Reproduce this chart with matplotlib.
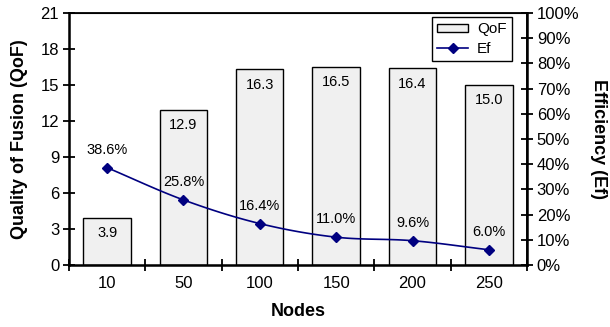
import numpy as np
import matplotlib
matplotlib.use("Agg")
import matplotlib.pyplot as plt
from matplotlib.ticker import FixedLocator, PercentFormatter
from matplotlib.lines import Line2D

plt.rcParams['font.family'] = ['Liberation Sans', 'DejaVu Sans']

nodes = ["10", "50", "100", "150", "200", "250"]
qof = [3.9, 12.9, 16.3, 16.5, 16.4, 15.0]
ef = [38.6, 25.8, 16.4, 11.0, 9.6, 6.0]


def smooth(xs, ys, n=20):
    """Catmull-Rom curve through the given points (for a smoothed line)."""
    xs = np.asarray(xs, float)
    ys = np.asarray(ys, float)
    px = np.concatenate([[2 * xs[0] - xs[1]], xs, [2 * xs[-1] - xs[-2]]])
    py = np.concatenate([[2 * ys[0] - ys[1]], ys, [2 * ys[-1] - ys[-2]]])
    ox, oy = [], []
    for i in range(1, len(px) - 2):
        t = np.linspace(0, 1, n, endpoint=False)
        for arr, out in ((px, ox), (py, oy)):
            p0, p1, p2, p3 = arr[i - 1], arr[i], arr[i + 1], arr[i + 2]
            out.extend(0.5 * ((2 * p1) + (-p0 + p2) * t
                              + (2 * p0 - 5 * p1 + 4 * p2 - p3) * t ** 2
                              + (-p0 + 3 * p1 - 3 * p2 + p3) * t ** 3))
    ox.append(xs[-1])
    oy.append(ys[-1])
    return np.array(ox), np.array(oy)


fig = plt.figure(figsize=(6.10, 3.27), dpi=100)
ax = fig.add_axes([0.113, 0.190, 0.751, 0.770])
x = np.arange(len(nodes))

bars = ax.bar(x, qof, width=0.62, color="#f0f0f0", edgecolor="black",
              linewidth=1.0, label="QoF", zorder=2)
for xi, v in zip(x, qof):
    ax.annotate(f"{v:.1f}", (xi, v), xytext=(0, -11), textcoords="offset points",
                ha="center", va="center", fontsize=10.5, zorder=5)

ax.set_xlim(-0.5, len(nodes) - 0.5)
ax.set_ylim(0, 21)
ax.set_yticks(np.arange(0, 22, 3))
ax.set_xticks(x)
ax.set_xticklabels(nodes)
ax.xaxis.set_minor_locator(FixedLocator(np.arange(-0.5, len(nodes), 1.0)))
ax.tick_params(axis="x", which="major", length=0, labelsize=12, pad=8)
ax.tick_params(axis="x", which="minor", direction="inout", length=8, width=1.3)
ax.tick_params(axis="y", direction="inout", length=8, width=1.3, labelsize=12,
               pad=3)
ax.set_xlabel("Nodes", fontsize=13, fontweight="bold", labelpad=9)
ax.set_ylabel("Quality of Fusion (QoF)", fontsize=13, fontweight="bold", labelpad=9)

for side in ("top", "right"):
    ax.spines[side].set_linewidth(1.3)
for side in ("left", "bottom"):
    ax.spines[side].set_linewidth(1.8)

ax2 = ax.twinx()
ax2.set_ylim(0, 100)
ax2.set_yticks(np.arange(0, 101, 10))
ax2.yaxis.set_major_formatter(PercentFormatter(decimals=0))
ax2.tick_params(axis="y", direction="inout", length=8, width=1.3, labelsize=12,
                pad=3)
ax2.spines["right"].set_linewidth(1.8)
ax2.set_ylabel("Efficiency (Ef)", fontsize=13, fontweight="bold",
               rotation=270, labelpad=20)

sx, sy = smooth(x, ef)
ax2.plot(sx, sy, color="#000080", linewidth=1.2, zorder=3)
ax2.plot(x, ef, linestyle="none", marker="D", markersize=5,
         color="#000080", zorder=4)
for xi, v in zip(x, ef):
    ax2.annotate(f"{v:.1f}%", (xi, v), xytext=(0, 13), textcoords="offset points",
                 ha="center", va="center", fontsize=10.5, zorder=5)

ef_handle = Line2D([], [], color="#000080", linewidth=1.2, marker="D",
                   markersize=5)
leg = ax2.legend([bars, ef_handle], ["QoF", "Ef"], loc="upper right",
                 bbox_to_anchor=(0.967, 0.985), fontsize=11, frameon=True,
                 fancybox=False, edgecolor="black", framealpha=1,
                 handlelength=2.0, handleheight=0.45, borderpad=0.35,
                 labelspacing=0.35, handletextpad=0.6, borderaxespad=0)
leg.get_frame().set_linewidth(1.0)

fig.savefig("out.png", dpi=100)
